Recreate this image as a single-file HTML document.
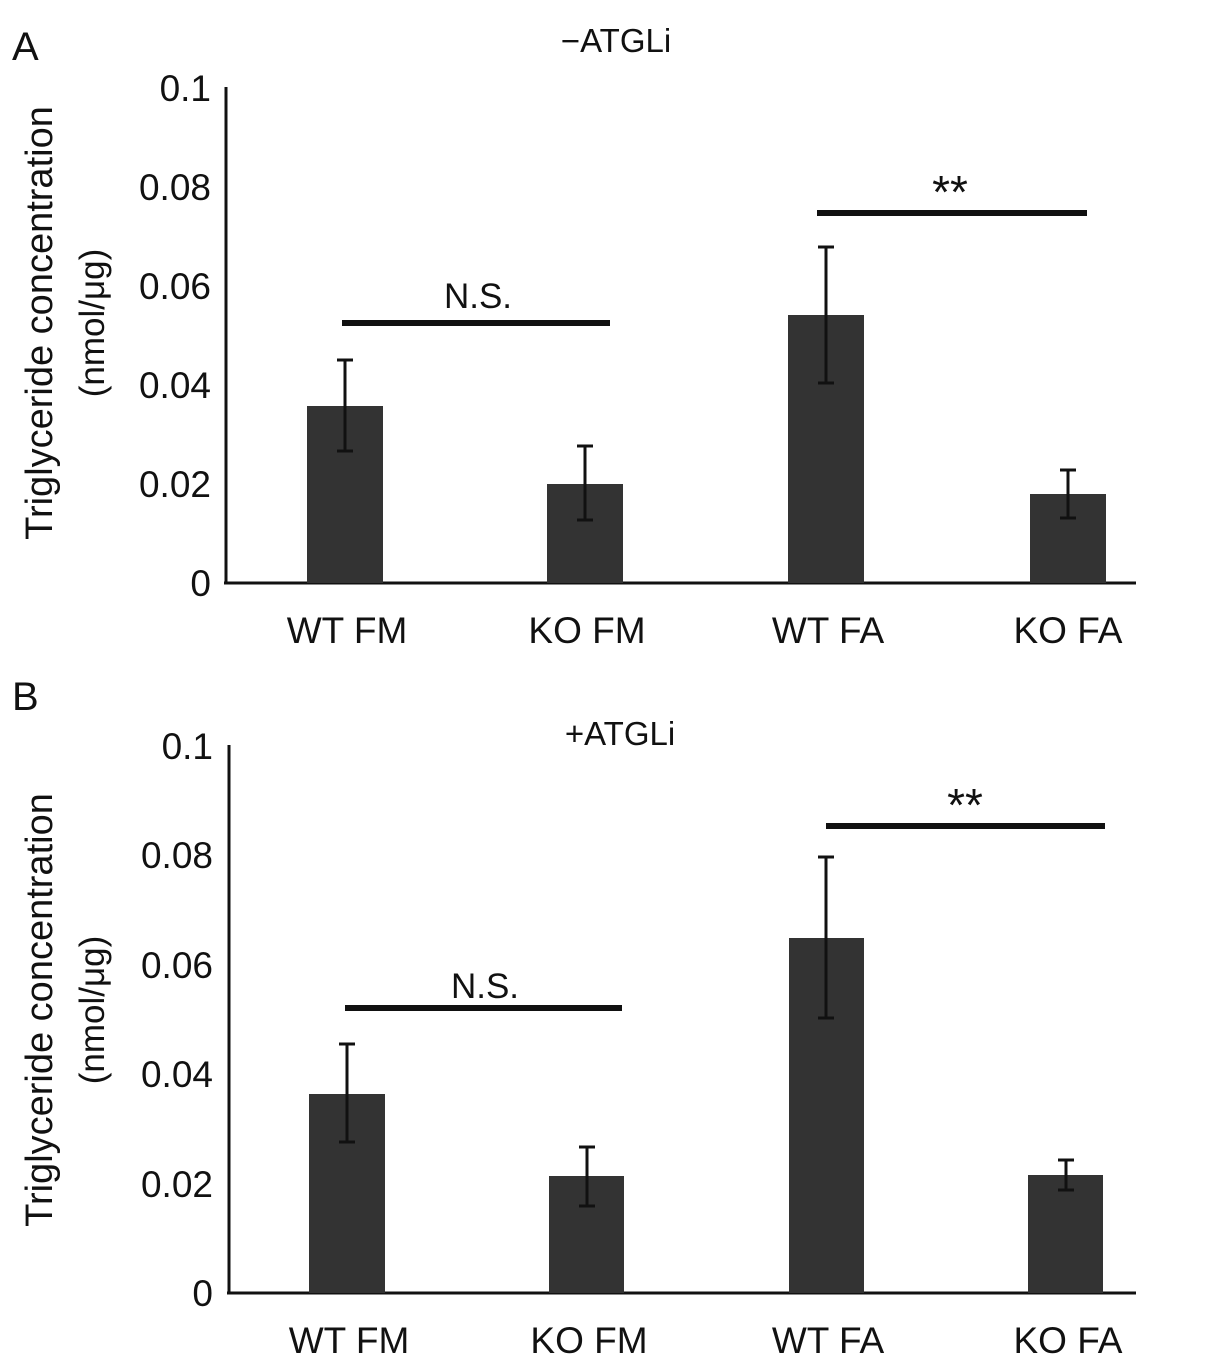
<!DOCTYPE html>
<html><head><style>body{margin:0;background:#fff}svg{display:block}text{font-family:"Liberation Sans",Arial,sans-serif;fill:#111}</style></head>
<body>
<svg width="1205" height="1366" viewBox="0 0 1205 1366">
<g font-size="37">
<text x="12" y="60" font-size="40">A</text>
<text x="616" y="52" text-anchor="middle" font-size="33">−ATGLi</text>
<text x="211" y="101" text-anchor="end">0.1</text>
<text x="211" y="200" text-anchor="end">0.08</text>
<text x="211" y="299" text-anchor="end">0.06</text>
<text x="211" y="398" text-anchor="end">0.04</text>
<text x="211" y="497" text-anchor="end">0.02</text>
<text x="211" y="596" text-anchor="end">0</text>
<text transform="translate(52,323) rotate(-90)" text-anchor="middle" font-size="38">Triglyceride concentration</text>
<text transform="translate(104,323) rotate(-90)" text-anchor="middle" font-size="35">(nmol/μg)</text>
<line x1="226" y1="87" x2="226" y2="583" stroke="#111" stroke-width="3"/>
<line x1="224" y1="583" x2="1136" y2="583" stroke="#111" stroke-width="3"/>
<g fill="#333">
<rect x="307" y="406" width="76" height="177"/>
<rect x="547" y="484" width="76" height="99"/>
<rect x="788" y="315" width="76" height="268"/>
<rect x="1030" y="494" width="76" height="89"/>
</g>
<g stroke="#111" stroke-width="3">
<line x1="345" y1="360" x2="345" y2="451"/><line x1="337" y1="360" x2="353" y2="360"/><line x1="337" y1="451" x2="353" y2="451"/>
<line x1="585" y1="446" x2="585" y2="520"/><line x1="577" y1="446" x2="593" y2="446"/><line x1="577" y1="520" x2="593" y2="520"/>
<line x1="826" y1="247" x2="826" y2="383"/><line x1="818" y1="247" x2="834" y2="247"/><line x1="818" y1="383" x2="834" y2="383"/>
<line x1="1068" y1="470" x2="1068" y2="518"/><line x1="1060" y1="470" x2="1076" y2="470"/><line x1="1060" y1="518" x2="1076" y2="518"/>
</g>
<line x1="342" y1="323" x2="610" y2="323" stroke="#111" stroke-width="6"/>
<line x1="817" y1="213" x2="1087" y2="213" stroke="#111" stroke-width="6"/>
<text x="478" y="308" text-anchor="middle" font-size="35">N.S.</text>
<text x="950" y="208" text-anchor="middle" font-size="46" font-family="Liberation Serif">**</text>
<text x="347" y="643" text-anchor="middle">WT FM</text>
<text x="587" y="643" text-anchor="middle">KO FM</text>
<text x="828" y="643" text-anchor="middle">WT FA</text>
<text x="1068" y="643" text-anchor="middle">KO FA</text>

<text x="12" y="710" font-size="40">B</text>
<text x="620" y="745" text-anchor="middle" font-size="33">+ATGLi</text>
<text x="213" y="759" text-anchor="end">0.1</text>
<text x="213" y="868" text-anchor="end">0.08</text>
<text x="213" y="978" text-anchor="end">0.06</text>
<text x="213" y="1087" text-anchor="end">0.04</text>
<text x="213" y="1197" text-anchor="end">0.02</text>
<text x="213" y="1306" text-anchor="end">0</text>
<text transform="translate(52,1010) rotate(-90)" text-anchor="middle" font-size="38">Triglyceride concentration</text>
<text transform="translate(104,1010) rotate(-90)" text-anchor="middle" font-size="35">(nmol/μg)</text>
<line x1="229" y1="745" x2="229" y2="1293" stroke="#111" stroke-width="3"/>
<line x1="227" y1="1293" x2="1136" y2="1293" stroke="#111" stroke-width="3"/>
<g fill="#333">
<rect x="309" y="1094" width="76" height="199"/>
<rect x="549" y="1176" width="75" height="117"/>
<rect x="789" y="938" width="75" height="355"/>
<rect x="1028" y="1175" width="75" height="118"/>
</g>
<g stroke="#111" stroke-width="3">
<line x1="347" y1="1044" x2="347" y2="1142"/><line x1="339" y1="1044" x2="355" y2="1044"/><line x1="339" y1="1142" x2="355" y2="1142"/>
<line x1="587" y1="1147" x2="587" y2="1206"/><line x1="579" y1="1147" x2="595" y2="1147"/><line x1="579" y1="1206" x2="595" y2="1206"/>
<line x1="826" y1="857" x2="826" y2="1018"/><line x1="818" y1="857" x2="834" y2="857"/><line x1="818" y1="1018" x2="834" y2="1018"/>
<line x1="1066" y1="1160" x2="1066" y2="1190"/><line x1="1058" y1="1160" x2="1074" y2="1160"/><line x1="1058" y1="1190" x2="1074" y2="1190"/>
</g>
<line x1="345" y1="1008" x2="622" y2="1008" stroke="#111" stroke-width="6"/>
<line x1="826" y1="826" x2="1105" y2="826" stroke="#111" stroke-width="6"/>
<text x="485" y="998" text-anchor="middle" font-size="35">N.S.</text>
<text x="965" y="821" text-anchor="middle" font-size="46" font-family="Liberation Serif">**</text>
<text x="349" y="1353" text-anchor="middle">WT FM</text>
<text x="589" y="1353" text-anchor="middle">KO FM</text>
<text x="828" y="1353" text-anchor="middle">WT FA</text>
<text x="1068" y="1353" text-anchor="middle">KO FA</text>
</g>
</svg>
</body></html>
